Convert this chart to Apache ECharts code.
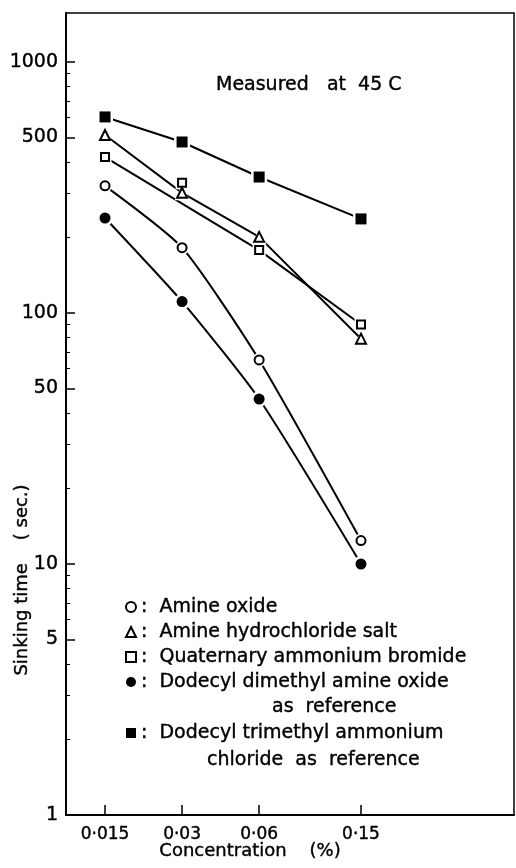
<!DOCTYPE html>
<html>
<head>
<meta charset="utf-8">
<script src="https://cdn.jsdelivr.net/npm/echarts@6/dist/echarts.min.js"></script>
<style>
  html, body { margin: 0; padding: 0; background: #fff; }
  #chart { width: 516px; height: 868px; }
</style>
</head>
<body>
<div id="chart"></div>
<script>
var concentration = [0.015, 0.03, 0.06, 0.15];
var xTickLabels = ['0·015', '0·03', '0·06', '0·15'];
var yTickValues = [1, 5, 10, 50, 100, 500, 1000];
var yMinorTicks = [2, 3, 4, 6, 7, 8, 9, 20, 30, 40, 60, 70, 80, 90, 200, 300, 400, 600, 700, 800, 900];

// sinking time (sec.)
var amineOxide = [321, 182, 65, 12.4];
var amineHydrochloride = [512, 301, 201, 79];
var quaternaryBromide = [418, 330, 178, 90];
var dodecylAmineOxide = [239, 111, 45.4, 10];
var dodecylTrimethyl = [604, 480, 348, 237];

// the drawn line of the bromide series passes below its 0.03 point
var quaternaryLinePoints = [0, 2, 3];

var font = 'DejaVu Sans';
// thin outline on text to get the heavy lettering of the scan
var ink = { color: '#000', textBorderColor: '#000', textBorderWidth: 0.4 };

var groups = [
  { name: 'Amine oxide', data: amineOxide, symbol: 'emptyCircle', size: 9, smooth: 0.2 },
  { name: 'Amine hydrochloride salt', data: amineHydrochloride, symbol: 'emptyTriangle', size: 10, smooth: false },
  { name: 'Quaternary ammonium bromide', data: quaternaryBromide, symbol: 'emptyRect', size: 8, smooth: false, points: quaternaryLinePoints },
  { name: 'Dodecyl dimethyl amine oxide', data: dodecylAmineOxide, symbol: 'circle', size: 11, smooth: 0.2 },
  { name: 'Dodecyl trimethyl ammonium', data: dodecylTrimethyl, symbol: 'rect', size: 11, smooth: false }
];

function pairs(values, idx) {
  var out = [];
  values.forEach(function (v, i) {
    if (!idx || idx.indexOf(i) >= 0) out.push([concentration[i], v]);
  });
  return out;
}

var series = [];
groups.forEach(function (g) {
  var empty = g.symbol.indexOf('empty') === 0;
  series.push({
    type: 'line', name: g.name + ' (line)', data: pairs(g.data, g.points),
    symbol: 'none', smooth: g.smooth, silent: true, z: 2,
    lineStyle: { color: '#000', width: 2 }
  });
  // white halo so lines stop short of the markers
  series.push({
    type: 'scatter', name: g.name + ' (halo)', data: pairs(g.data), silent: true, z: 3,
    symbol: g.symbol.replace('empty', '').toLowerCase(), symbolSize: g.size + 5,
    itemStyle: { color: '#fff', opacity: 1 }
  });
  series.push({
    type: 'scatter', name: g.name, data: pairs(g.data), z: 4,
    symbol: g.symbol, symbolSize: g.size,
    itemStyle: { color: '#000', opacity: 1, borderColor: '#000', borderWidth: empty ? 2 : 0 }
  });
});

function xLabel(v) {
  for (var i = 0; i < concentration.length; i++) {
    if (Math.abs(concentration[i] - v) / concentration[i] < 0.01) return xTickLabels[i];
  }
  return '';
}

function txt(size) {
  return Object.assign({ fontFamily: font, fontSize: size }, ink);
}

var chart = echarts.init(document.getElementById('chart'));
chart.setOption({
  backgroundColor: '#fff',
  animation: false,
  title: {
    text: 'Measured   at  45 C',
    left: 211, top: 71,
    textStyle: Object.assign(txt(19), { fontWeight: 'normal' })
  },
  grid: {
    left: 66, right: 2, top: 13, bottom: 53,
    show: true, borderColor: '#000', borderWidth: 1.5
  },
  legend: [
    {
      data: groups.slice(0, 4).map(function (g) { return g.name; }),
      orient: 'vertical', left: 125, top: 597, padding: 0,
      itemWidth: 10, itemHeight: 10, itemGap: 5, selectedMode: false,
      formatter: function (n) { return ':  ' + n; },
      textStyle: Object.assign(txt(19), { lineHeight: 20 })
    },
    {
      data: [groups[4].name],
      orient: 'vertical', left: 126, top: 723, padding: 0,
      itemWidth: 10, itemHeight: 10, selectedMode: false,
      formatter: function (n) { return ':  ' + n; },
      textStyle: Object.assign(txt(19), { lineHeight: 20 })
    }
  ],
  xAxis: {
    type: 'log', min: 0.01056, max: 0.594,
    axisLine: { lineStyle: { color: '#000', width: 2 } },
    axisTick: { inside: true, length: 10, lineStyle: { color: '#000', width: 1.5 }, customValues: concentration },
    axisLabel: Object.assign(txt(17), { customValues: concentration, formatter: xLabel, margin: 11 }),
    splitLine: { show: false },
    minorTick: { show: false }
  },
  yAxis: [
    {
      type: 'log', min: 1, max: 1567,
      axisLine: { lineStyle: { color: '#000', width: 2 } },
      axisTick: { inside: true, length: 9, lineStyle: { color: '#000', width: 1.5 }, customValues: yTickValues },
      axisLabel: Object.assign(txt(19), {
        customValues: yTickValues, margin: 8,
        formatter: function (v) { return String(Math.round(v)); }
      }),
      splitLine: { show: false }
    },
    {
      type: 'log', min: 1, max: 1567, position: 'left',
      axisLine: { show: false },
      axisTick: { inside: true, length: 4, lineStyle: { color: '#000', width: 1 }, customValues: yMinorTicks },
      axisLabel: { show: false },
      splitLine: { show: false }
    }
  ],
  graphic: [
    {
      type: 'text', x: 22, y: 580, rotation: Math.PI / 2,
      style: { text: 'Sinking time    ( sec.)', font: '18px "DejaVu Sans"', fill: '#000', stroke: '#000', lineWidth: 0.4, align: 'center', verticalAlign: 'middle' }
    },
    {
      type: 'text', x: 250, y: 851,
      style: { text: 'Concentration    (%)', font: '18px "DejaVu Sans"', fill: '#000', stroke: '#000', lineWidth: 0.4, align: 'center', verticalAlign: 'middle' }
    },
    {
      type: 'text', x: 272, y: 707,
      style: { text: 'as  reference', font: '19px "DejaVu Sans"', fill: '#000', stroke: '#000', lineWidth: 0.4, verticalAlign: 'middle' }
    },
    {
      type: 'text', x: 207, y: 760,
      style: { text: 'chloride  as  reference', font: '19px "DejaVu Sans"', fill: '#000', stroke: '#000', lineWidth: 0.4, verticalAlign: 'middle' }
    }
  ],
  series: series
});
</script>
</body>
</html>
